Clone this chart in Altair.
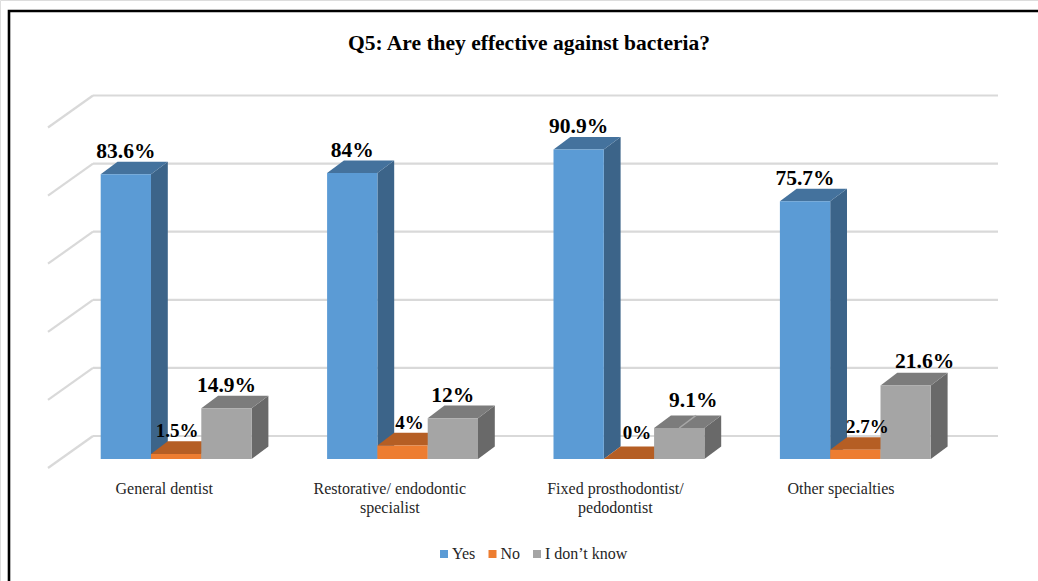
import altair as alt
import pandas as pd

categories = ["General dentist", "Restorative/ endodontic specialist",
              "Fixed prosthodontist/ pedodontist", "Other specialties"]
axis_lines = [["General dentist"], ["Restorative/ endodontic", "specialist"],
              ["Fixed prosthodontist/", "pedodontist"], ["Other specialties"]]
series = ["Yes", "No", "I don\u2019t know"]
yes_values = [83.6, 84, 90.9, 75.7]
no_values = [1.5, 4, 0, 2.7]
unknown_values = [14.9, 12, 9.1, 21.6]
wall_levels = [0, 20, 40, 60, 80, 100]

W, H = 1038, 581
PX_X = 226.4   # pixels per category step
PX_Y = 3.405   # pixels per percentage point
X0, Y0 = 100.7, 459

BAR_W = 50.3 / PX_X
BAR_DX = 16.8 / PX_X
BAR_DY = 12.6 / PX_Y
WALL_DX = 45 / PX_X
WALL_DY = 32 / PX_Y
WALL_LIFT = 23 / PX_Y
WALL_LEFT = (93 - X0) / PX_X
WALL_RIGHT = (998 - X0) / PX_X

x_scale = alt.Scale(domain=[-X0 / PX_X, (W - X0) / PX_X], nice=False, zero=False)
y_scale = alt.Scale(domain=[(Y0 - H) / PX_Y, Y0 / PX_Y], nice=False, zero=False)
X = lambda f="x": alt.X(f"{f}:Q", scale=x_scale, axis=None)
Y = lambda f="y": alt.Y(f"{f}:Q", scale=y_scale, axis=None)

front_colors = ["#5B9BD5", "#ED7D31", "#A5A5A5"]
top_colors = ["#44729D", "#B55E24", "#7C7C7C"]
side_colors = ["#3C6489", "#A65720", "#696969"]

values = [yes_values, no_values, unknown_values]

# Back wall and left wall grid lines
wall_rows = []
for level in wall_levels:
    y = level + WALL_LIFT
    wall_rows += [
        {"line": f"b{level}", "x": WALL_LEFT, "y": y},
        {"line": f"b{level}", "x": WALL_RIGHT, "y": y},
        {"line": f"s{level}", "x": WALL_LEFT - WALL_DX, "y": y - WALL_DY},
        {"line": f"s{level}", "x": WALL_LEFT, "y": y},
    ]
grid = alt.Chart(pd.DataFrame(wall_rows)).mark_line(
    color="#D9D9D9", strokeWidth=2.2, clip=True
).encode(x=X(), y=Y(), detail="line:N")

front_rows, side_rows, top_rows = [], [], []
for s, name in enumerate(series):
    for g, cat in enumerate(categories):
        v = values[s][g]
        xl = g + s * BAR_W
        xr = xl + BAR_W
        front_rows.append({"series": name, "x": xl, "x2": xr, "y": v, "y2": 0})
        for px, py, py2 in [(xr, v, 0), (xr + BAR_DX, v + BAR_DY, BAR_DY)]:
            side_rows.append({"series": name, "cat": cat, "x": px, "y": py, "y2": py2})
        for px, py, py2 in [(xl, v, v), (xl + BAR_DX, v + BAR_DY, v),
                            (xr, v + BAR_DY, v), (xr + BAR_DX, v + BAR_DY, v + BAR_DY)]:
            top_rows.append({"series": name, "cat": cat, "x": px, "y": py, "y2": py2})

fronts = pd.DataFrame(front_rows)
sides = pd.DataFrame(side_rows)
tops = pd.DataFrame(top_rows)

layers = [grid]
for s, name in enumerate(series):
    layers.append(alt.Chart(sides[sides.series == name]).mark_area(
        color=side_colors[s], orient="vertical", clip=True
    ).encode(x=X(), y=Y(), y2="y2:Q", detail="cat:N"))
    layers.append(alt.Chart(tops[tops.series == name]).mark_area(
        color=top_colors[s], orient="vertical", clip=True
    ).encode(x=X(), y=Y(), y2="y2:Q", detail="cat:N"))
    layers.append(alt.Chart(fronts[fronts.series == name]).mark_bar(clip=True).encode(
        x=X(), x2="x2:Q", y=Y(), y2="y2:Q",
        color=alt.Color(
            "series:N",
            scale=alt.Scale(domain=series, range=front_colors),
            legend=alt.Legend(
                title=None, orient="none", legendX=436, legendY=546,
                direction="horizontal", columns=3, symbolType="square",
                symbolSize=64, symbolStrokeWidth=0, labelFont="Liberation Serif",
                labelFontSize=16, labelColor="#262626", labelOffset=0,
                columnPadding=8.5,
            ),
        ),
    ))

# Pale crease across the top of the grey bar in the third group
seam_g, seam_s = 2, 2
seam_v = values[seam_s][seam_g]
seam_x = seam_g + (seam_s + 0.5) * BAR_W
seam = alt.Chart(pd.DataFrame({
    "x": [seam_x, seam_x + BAR_DX],
    "y": [seam_v, seam_v + BAR_DY],
})).mark_line(color="#A8A8A8", strokeWidth=1.5).encode(x=X(), y=Y())
layers.append(seam)

# Value labels sit above the bars, a few of them nudged clear of their neighbours
nudges = {
    (1, 0): (1, -1), (1, 1): (7, 0), (1, 2): (8, -4), (1, 3): (12, -1),
    (2, 2): (14, -5), (2, 3): (19, -1),
}
for s in range(3):
    for g in range(4):
        v = values[s][g]
        dx, dy = nudges.get((s, g), (0, 0))
        row = pd.DataFrame({"x": [g + (s + 0.5) * BAR_W], "y": [v], "t": [f"{v:g}%"]})
        layers.append(alt.Chart(row).mark_text(
            font="Liberation Serif", fontWeight="bold",
            fontSize=19 if s == 1 else 21.5, color="#000000",
            baseline="alphabetic", align="center", dx=dx, dy=-16 + dy,
        ).encode(x=X(), y=Y(), text="t:N"))

# Category captions under the floor, spaced slightly tighter than the bar groups
caption_offset = 63.5 / PX_X
caption_step = 225.6 / PX_X
captions = pd.DataFrame({
    "x": [g * caption_step + caption_offset for g in range(4)],
    "y": [-(34.5 / PX_Y)] * 4,
    "t": axis_lines,
})
layers.append(alt.Chart(captions).mark_text(
    font="Liberation Serif", fontSize=16, color="#262626",
    baseline="alphabetic", align="center", lineHeight=19,
).encode(x=X(), y=Y(), text="t:N"))

# Outer frame; its right and lower edges run past the page
frame = alt.Chart(pd.DataFrame({"a": [0]})).mark_rect(
    fillOpacity=0, stroke="#000000", strokeWidth=2.6
).encode(x=alt.value(9), x2=alt.value(1060), y=alt.value(11), y2=alt.value(600))
layers.append(frame)

chart = alt.layer(*layers).resolve_scale(color="shared").properties(
    width=W, height=H, padding=0, autosize=alt.AutoSizeParams(type="none"),
    title=alt.TitleParams(
        "Q5: Are they effective against bacteria?", font="Liberation Serif",
        fontSize=21.5, fontWeight="bold", color="#000000", anchor="middle",
        frame="group", dx=10, dy=54, offset=0,
    ),
).configure_view(stroke=None).configure(background="#FFFFFF")

chart.save("out.html", embed_options={"renderer": "svg", "actions": False})
